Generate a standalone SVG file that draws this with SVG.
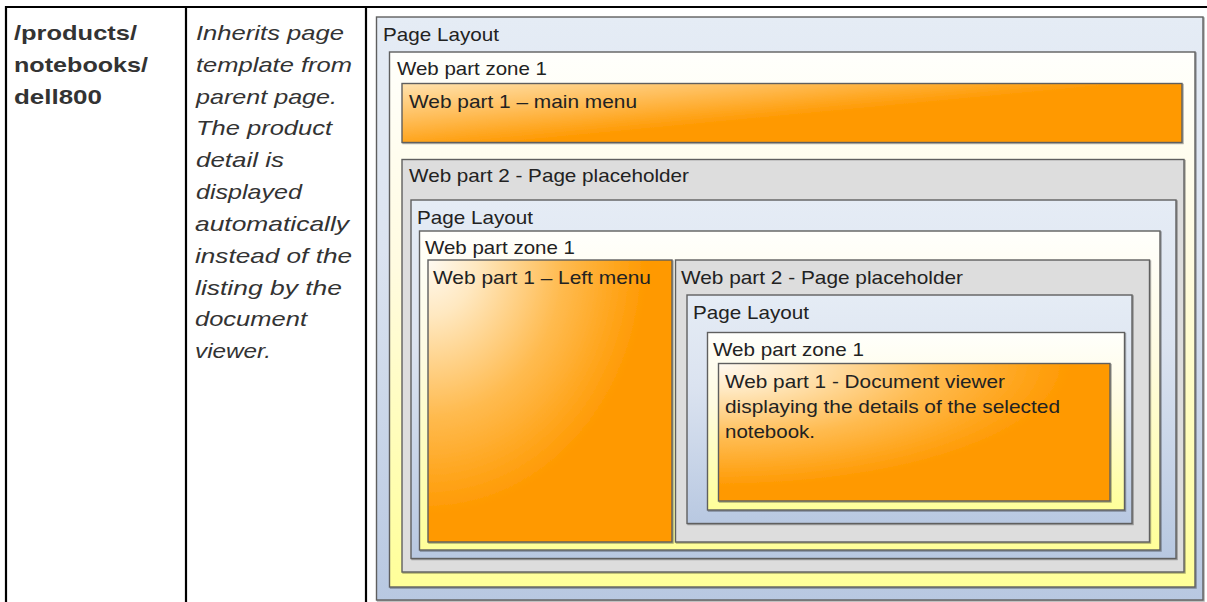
<svg xmlns="http://www.w3.org/2000/svg" width="1207" height="602" viewBox="0 0 1207 602">
<style>
.box{stroke:#5f5f5f;stroke-width:1.4;filter:url(#sh)}
.blue{fill:url(#gBlue)}
.zone{fill:url(#gZone)}
.gray{fill:#dddddd}
.lbl{font-family:"Liberation Sans",Arial,sans-serif;font-size:19px;fill:#222}
.desc{font-family:"Liberation Sans",Arial,sans-serif;font-size:21px;font-style:italic;fill:#333}
.path{font-family:"Liberation Sans",Arial,sans-serif;font-size:20.5px;font-weight:bold;fill:#333}
.tbl{stroke:#000;stroke-width:2.2;fill:none}
</style>
<defs>
<filter id="sh" x="-5%" y="-5%" width="110%" height="110%">
<feDropShadow dx="1" dy="1" stdDeviation="0.7" flood-color="#000" flood-opacity="0.35"/>
</filter>
<linearGradient id="gBlue" x1="0" y1="0" x2="0" y2="1">
<stop offset="0" stop-color="#e5ecf5"/>
<stop offset="0.4" stop-color="#dbe3f0"/>
<stop offset="1" stop-color="#b8c8e1"/>
</linearGradient>
<linearGradient id="gZone" x1="0" y1="0" x2="0" y2="1">
<stop offset="0" stop-color="#fffffc"/>
<stop offset="0.4" stop-color="#fffbe0"/>
<stop offset="1" stop-color="#ffff99"/>
</linearGradient>
<linearGradient id="gMenu" x1="0" y1="0" x2="1" y2="0.8">
<stop offset="0" stop-color="#ffe2ae"/>
<stop offset="0.3" stop-color="#ffbd58"/>
<stop offset="0.58" stop-color="#ff9900"/>
<stop offset="1" stop-color="#ff9900"/>
</linearGradient>
<radialGradient id="gOrange" cx="0" cy="0" r="1" fx="0" fy="0">
<stop offset="0" stop-color="#fffaf2"/>
<stop offset="0.2" stop-color="#ffe8c0"/>
<stop offset="0.55" stop-color="#ffbb50"/>
<stop offset="0.9" stop-color="#ff9900"/>
<stop offset="1" stop-color="#ff9900"/>
</radialGradient>
</defs>

<g id="table">
<line class="tbl" x1="5" y1="7" x2="1207" y2="7"/>
<line class="tbl" x1="6" y1="6" x2="6" y2="602"/>
<line class="tbl" x1="186" y1="6" x2="186" y2="602"/>
<line class="tbl" x1="366" y1="6" x2="366" y2="602"/>
</g>

<g id="path-cell">
<text class="path" x="14" y="40" textLength="123" lengthAdjust="spacingAndGlyphs">/products/</text>
<text class="path" x="14" y="72" textLength="134" lengthAdjust="spacingAndGlyphs">notebooks/</text>
<text class="path" x="14" y="104" textLength="88" lengthAdjust="spacingAndGlyphs">dell800</text>
</g>

<g id="description-cell">
<text class="desc" x="196" y="40" textLength="148" lengthAdjust="spacingAndGlyphs">Inherits page</text>
<text class="desc" x="196" y="72" textLength="156" lengthAdjust="spacingAndGlyphs">template from</text>
<text class="desc" x="196" y="104" textLength="141" lengthAdjust="spacingAndGlyphs">parent page.</text>
<text class="desc" x="196" y="135" textLength="136" lengthAdjust="spacingAndGlyphs">The product</text>
<text class="desc" x="196" y="167" textLength="88" lengthAdjust="spacingAndGlyphs">detail is</text>
<text class="desc" x="196" y="199" textLength="106" lengthAdjust="spacingAndGlyphs">displayed</text>
<text class="desc" x="195" y="231" textLength="154" lengthAdjust="spacingAndGlyphs">automatically</text>
<text class="desc" x="195" y="263" textLength="157" lengthAdjust="spacingAndGlyphs">instead of the</text>
<text class="desc" x="195" y="295" textLength="147" lengthAdjust="spacingAndGlyphs">listing by the</text>
<text class="desc" x="195" y="326" textLength="112" lengthAdjust="spacingAndGlyphs">document</text>
<text class="desc" x="195" y="358" textLength="76" lengthAdjust="spacingAndGlyphs">viewer.</text>
</g>

<g id="page-layout-1">
<rect class="box blue" x="376.5" y="17" width="826.5" height="583"/>
<text class="lbl" x="383" y="41" textLength="116" lengthAdjust="spacingAndGlyphs">Page Layout</text>
</g>

<g id="zone-1">
<rect class="box zone" x="389.5" y="52" width="805.5" height="535"/>
<text class="lbl" x="397" y="74.5" textLength="150" lengthAdjust="spacingAndGlyphs">Web part zone 1</text>
</g>

<g id="main-menu">
<rect class="box" fill="url(#gMenu)" x="402" y="83.5" width="780" height="59"/>
<text class="lbl" x="409" y="107.5" textLength="228" lengthAdjust="spacingAndGlyphs">Web part 1 – main menu</text>
</g>

<g id="placeholder-1">
<rect class="box gray" x="402" y="159.5" width="782" height="412.5"/>
<text class="lbl" x="409" y="182" textLength="280" lengthAdjust="spacingAndGlyphs">Web part 2 - Page placeholder</text>
</g>

<g id="page-layout-2">
<rect class="box blue" x="411" y="200" width="765" height="358.5"/>
<text class="lbl" x="417" y="224" textLength="116" lengthAdjust="spacingAndGlyphs">Page Layout</text>
</g>

<g id="zone-2">
<rect class="box zone" x="419.5" y="231" width="740.5" height="319"/>
<text class="lbl" x="425" y="254" textLength="150" lengthAdjust="spacingAndGlyphs">Web part zone 1</text>
</g>

<g id="left-menu">
<rect class="box" fill="url(#gOrange)" x="428" y="260" width="244" height="282"/>
<text class="lbl" x="433" y="284" textLength="218" lengthAdjust="spacingAndGlyphs">Web part 1 – Left menu</text>
</g>

<g id="placeholder-2">
<rect class="box gray" x="675.5" y="260" width="474" height="282"/>
<text class="lbl" x="681" y="284" textLength="282" lengthAdjust="spacingAndGlyphs">Web part 2 - Page placeholder</text>
</g>

<g id="page-layout-3">
<rect class="box blue" x="687" y="295" width="445" height="228.5"/>
<text class="lbl" x="693" y="318.5" textLength="116" lengthAdjust="spacingAndGlyphs">Page Layout</text>
</g>

<g id="zone-3">
<rect class="box zone" x="707.5" y="332.5" width="417" height="177.5"/>
<text class="lbl" x="713" y="355.5" textLength="151" lengthAdjust="spacingAndGlyphs">Web part zone 1</text>
</g>

<g id="document-viewer">
<rect class="box" fill="url(#gOrange)" x="718.5" y="363.5" width="391.5" height="137.5"/>
<text class="lbl" x="725" y="388" textLength="280" lengthAdjust="spacingAndGlyphs">Web part 1 - Document viewer</text>
<text class="lbl" x="725" y="413" textLength="335" lengthAdjust="spacingAndGlyphs">displaying the details of the selected</text>
<text class="lbl" x="725" y="438" textLength="90" lengthAdjust="spacingAndGlyphs">notebook.</text>
</g>

<g id="connectors"></g>
</svg>
